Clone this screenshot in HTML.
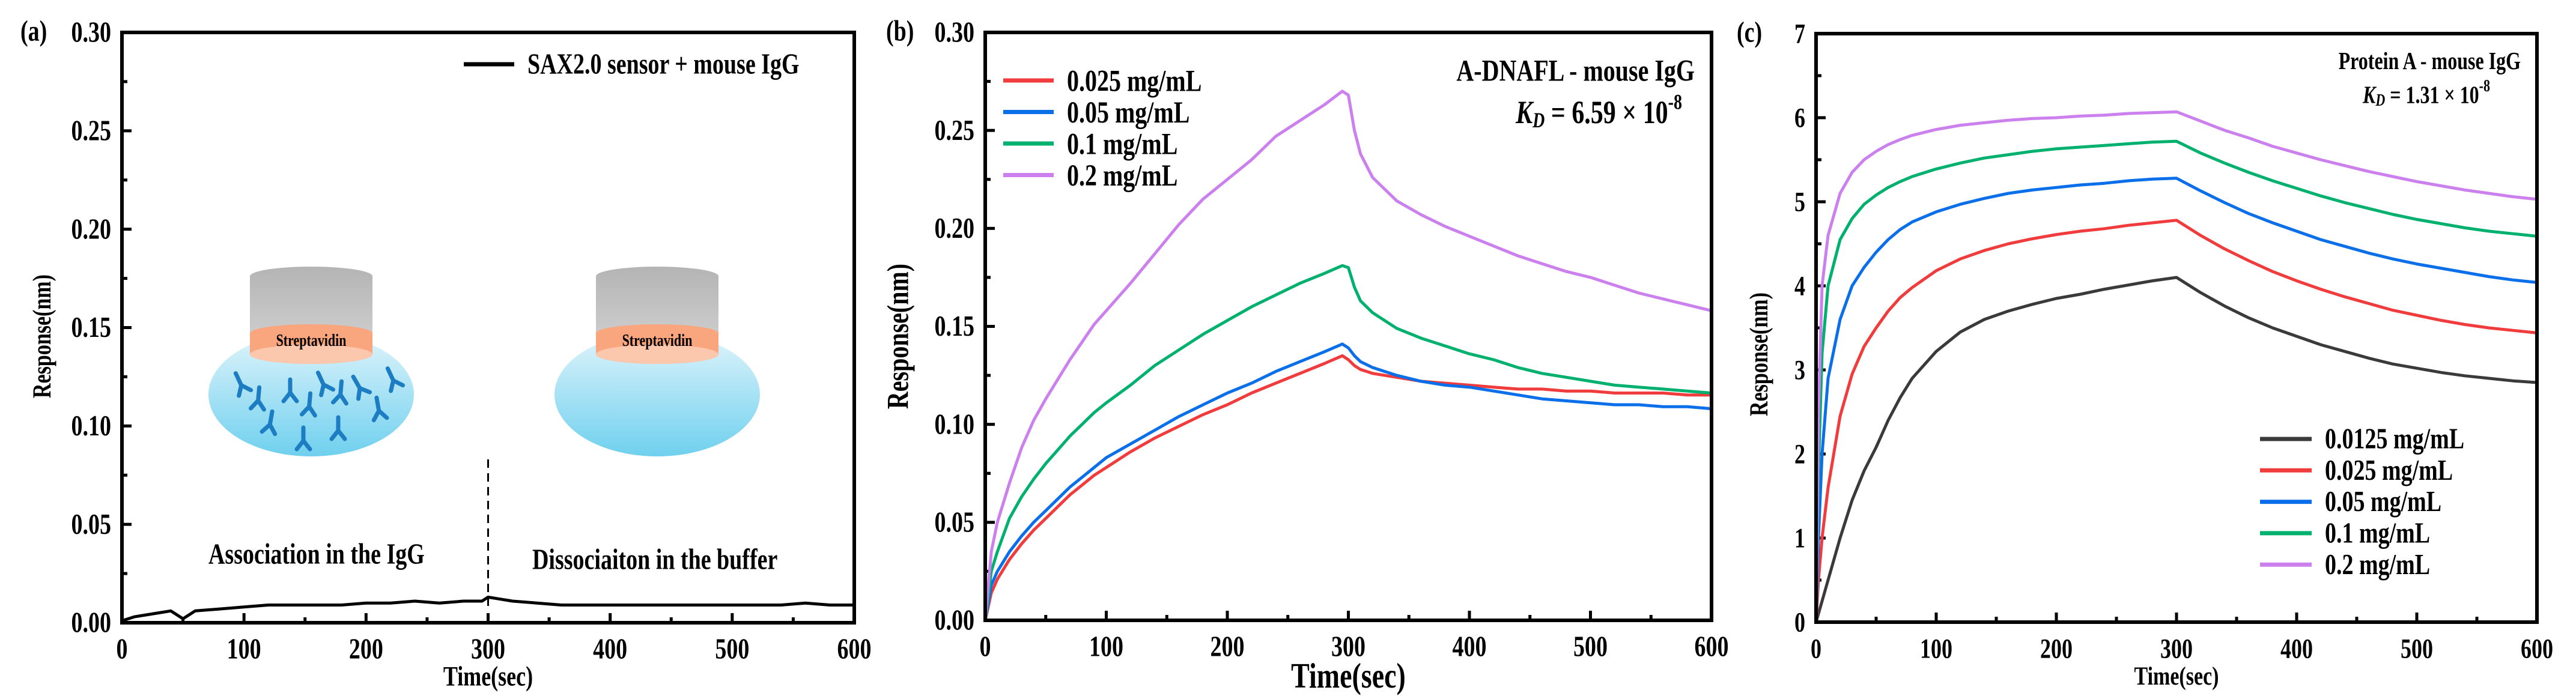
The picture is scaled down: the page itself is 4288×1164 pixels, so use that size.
<!DOCTYPE html>
<html><head><meta charset="utf-8"><style>
html,body{margin:0;padding:0;background:#fff;}
svg{display:block;font-family:"Liberation Serif",serif;font-weight:bold;}
</style></head><body>
<svg id="fig" width="4288" height="1164" viewBox="0 0 4288 1164">
<defs>
<linearGradient id="gray" x1="0" y1="0" x2="0" y2="1"><stop offset="0" stop-color="#b4b4b4"/><stop offset="1" stop-color="#d6d6d6"/></linearGradient>
<linearGradient id="water" x1="0" y1="0" x2="0" y2="1"><stop offset="0" stop-color="#e0f4fb"/><stop offset="1" stop-color="#6fd0ee"/></linearGradient>
</defs>
</svg>
<script>
// ---------- Panel (a) data ----------
const timeA = [0,10,20,30,40,50,60,80,100,120,140,160,180,200,220,240,260,280,295,300,310,320,340,360,380,400,420,440,460,480,500,520,540,560,580,600];
const respA = [0.001,0.003,0.004,0.005,0.006,0.002,0.006,0.007,0.008,0.009,0.009,0.009,0.009,0.010,0.010,0.011,0.010,0.011,0.011,0.013,0.012,0.011,0.010,0.009,0.009,0.009,0.009,0.009,0.009,0.009,0.009,0.009,0.009,0.010,0.009,0.009];
const seriesNamesA = ["SAX2.0 sensor +  mouse IgG"];

// ---------- Panel (b) data ----------
const timeB = [0,5,10,20,30,40,50,60,70,80,90,100,120,140,160,180,200,220,240,260,280,295,300,305,310,320,340,360,380,400,420,440,460,480,500,520,540,560,580,600];
const redB = [0,0.014,0.021,0.031,0.039,0.046,0.052,0.058,0.064,0.069,0.074,0.078,0.086,0.093,0.099,0.105,0.110,0.116,0.121,0.126,0.131,0.135,0.133,0.130,0.128,0.126,0.124,0.122,0.121,0.120,0.119,0.118,0.118,0.117,0.117,0.116,0.116,0.116,0.115,0.115];
const blueB = [0,0.018,0.025,0.035,0.043,0.050,0.056,0.062,0.068,0.073,0.078,0.083,0.090,0.097,0.104,0.110,0.116,0.121,0.127,0.132,0.137,0.141,0.139,0.135,0.132,0.129,0.125,0.122,0.120,0.119,0.117,0.115,0.113,0.112,0.111,0.110,0.110,0.109,0.109,0.108];
const greenB = [0,0.025,0.035,0.052,0.063,0.072,0.080,0.087,0.094,0.100,0.106,0.111,0.120,0.130,0.138,0.146,0.153,0.160,0.166,0.172,0.177,0.181,0.180,0.170,0.163,0.157,0.149,0.144,0.140,0.136,0.133,0.129,0.126,0.124,0.122,0.120,0.119,0.118,0.117,0.116];
const purpleB = [0,0.035,0.050,0.070,0.088,0.102,0.113,0.123,0.133,0.142,0.151,0.158,0.172,0.187,0.202,0.215,0.225,0.235,0.247,0.255,0.263,0.270,0.268,0.250,0.238,0.226,0.214,0.207,0.201,0.196,0.191,0.186,0.182,0.178,0.175,0.171,0.167,0.164,0.161,0.158];
const seriesNamesB = ["0.025 mg/mL","0.05 mg/mL","0.1 mg/mL","0.2 mg/mL"];

// ---------- Panel (c) data ----------
const timeC = [0,2,5,10,20,30,40,50,60,70,80,100,120,140,160,180,200,220,240,260,280,300,320,340,360,380,400,420,440,460,480,500,520,540,560,580,600];
const blackC = [0,0.1,0.25,0.5,1.0,1.45,1.8,2.08,2.4,2.67,2.9,3.22,3.45,3.6,3.7,3.78,3.85,3.9,3.96,4.01,4.06,4.1,3.92,3.76,3.62,3.5,3.4,3.3,3.22,3.14,3.07,3.02,2.97,2.93,2.9,2.87,2.85];
const redC = [0,0.5,1.0,1.6,2.45,2.95,3.28,3.5,3.7,3.86,3.98,4.18,4.32,4.42,4.5,4.56,4.61,4.65,4.68,4.72,4.75,4.78,4.6,4.44,4.3,4.17,4.06,3.96,3.87,3.79,3.71,3.65,3.59,3.54,3.5,3.47,3.44];
const blueC = [0,1.0,2.0,2.9,3.6,4.0,4.22,4.4,4.55,4.67,4.76,4.88,4.97,5.04,5.1,5.14,5.17,5.2,5.22,5.25,5.27,5.28,5.13,4.99,4.86,4.75,4.65,4.55,4.47,4.39,4.32,4.26,4.21,4.16,4.11,4.07,4.04];
const greenC = [0,1.8,3.2,4.0,4.55,4.8,4.97,5.08,5.17,5.24,5.3,5.39,5.46,5.52,5.56,5.6,5.63,5.65,5.67,5.69,5.71,5.72,5.58,5.46,5.35,5.25,5.16,5.07,4.99,4.92,4.85,4.79,4.74,4.69,4.65,4.62,4.59];
const purpleC = [0,2.5,4.0,4.6,5.1,5.35,5.5,5.6,5.68,5.74,5.79,5.86,5.91,5.94,5.97,5.99,6.0,6.02,6.03,6.05,6.06,6.07,5.96,5.85,5.76,5.66,5.58,5.5,5.43,5.36,5.3,5.24,5.19,5.14,5.1,5.06,5.03];
const seriesNamesC = ["0.0125 mg/mL","0.025 mg/mL","0.05 mg/mL","0.1 mg/mL","0.2 mg/mL"];

// tick labels
const xTickLabels = ["0","100","200","300","400","500","600"];
const yTickLabelsAB = ["0.00","0.05","0.10","0.15","0.20","0.25","0.30"];
const yTickLabelsC = ["0","1","2","3","4","5","6","7"];

const NS = "http://www.w3.org/2000/svg";
const svg = document.getElementById("fig");
const SY = 1.28;
function mk(tag, attrs, parent){
  const e = document.createElementNS(NS, tag);
  for (const k in attrs) e.setAttribute(k, attrs[k]);
  (parent||svg).appendChild(e);
  return e;
}
function txt(s, x, y, size, anchor, parent, rot){
  const tr = "translate(" + x + "," + y + ")" + (rot ? " rotate(" + rot + ")" : "") + " scale(1," + SY + ")";
  const t = mk("text", {x:0, y:0, transform:tr, "font-size":size, "text-anchor":anchor||"start", "dominant-baseline":"central", fill:"#000"}, parent);
  t.textContent = s;
  return t;
}

function makePanel(p){
  const g = mk("g", {});
  
  
  const sx = v => p.L + (v - 0) / 600 * (p.R - p.L);
  const sy = v => p.B - (v - p.ymin) / (p.ymax - p.ymin) * (p.B - p.T);
  const tg = mk("g", {stroke:"#000", "stroke-width":5}, g);
  
  
  for (let i = 0; i <= 12; i++){
    const x = sx(i*50), len = i%2===0 ? 16 : 9;
    mk("line", {x1:x, y1:p.B, x2:x, y2:p.B-len}, tg);
  }
  const nY = p.yLabels.length - 1;
  for (let i = 0; i <= nY*2; i++){
    const v = p.ymin + i*(p.ymax-p.ymin)/(nY*2);
    const y = sy(v), len = i%2===0 ? 16 : 9;
    mk("line", {x1:p.L, y1:y, x2:p.L+len, y2:y}, tg);
  }
  xTickLabels.forEach((s,i)=>{
    const t = txt(s, sx(i*100), p.B+44, p.tickFont, "middle", g);
    
    
  });
  p.yLabels.forEach((s,i)=>{
    const t = txt(s, p.L-18, sy(p.ymin + i*(p.ymax-p.ymin)/nY), p.tickFont, "end", g);
    
    
  });
  p.series.forEach((s, si)=>{
    let d = "";
    s.vals.forEach((v,i)=>{ d += (i?"L":"M") + sx(p.time[i]).toFixed(1) + "," + sy(v).toFixed(1); });
    const path = mk("path", {d:d, fill:"none", stroke:s.color, "stroke-width":p.lw, "stroke-linejoin":"round"}, g);
    
    
  });
  const fr = mk("rect", {x:p.L, y:p.T, width:p.R-p.L, height:p.B-p.T, fill:"none", stroke:"#000", "stroke-width":6}, g);
  
  
  const xt = txt("Time(sec)", (p.L+p.R)/2, p.xTitleY, p.xTitleFont, "middle", g);
  
  
  const yt = txt("Response(nm)", p.yTitleX, p.yTitleY, p.yTitleFont, "middle", g, -90);
  
  
  const pl = txt(p.letter, p.letterX, p.T-2, 38, "start", g);
  
  
  p.legend.forEach((s, i)=>{
    const y = p.legY + i*p.legDy;
    const lg = mk("g", {}, g);
    
    
    mk("line", {x1:p.legX, y1:y, x2:p.legX+p.legLine, y2:y, stroke:s.color, "stroke-width":7}, lg);
    txt(s.label, p.legX+p.legLine+22, y, p.legFont, "start", lg);
  });
  return {g, sx, sy};
}

// Panel a
const pa = makePanel({name:"panel-a", L:203, R:1422, T:54, B:1037, ymin:0, ymax:0.30, yLabels:yTickLabelsAB,
  time:timeA, series:[{id:"series-sax2",color:"#000",vals:respA}], lw:5, tickFont:38, xTitleY:1126, xTitleFont:36,
  yTitleX:70, yTitleY:560, yTitleFont:34, letter:"(a)", letterX:34,
  legend:[{label:seriesNamesA[0], color:"#000"}], legX:772, legY:107, legLine:84, legFont:38, legDy:0});

function cylinder(cx, g){
  const w = 102;
  mk("ellipse", {cx:cx+100, cy:657, rx:171, ry:103, fill:"url(#water)"}, g);
  mk("path", {d:`M${cx-w+100},460 L${cx-w+100},590 A${w},16 0 0 0 ${cx+w+100},590 L${cx+w+100},460 A${w},16 0 0 0 ${cx-w+100},460 Z`, fill:"url(#gray)"}, g);
  mk("path", {d:`M${cx-w+100},555 L${cx-w+100},590 A${w},16 0 0 0 ${cx+w+100},590 L${cx+w+100},555 Z`, fill:"#f9a57e"}, g);
  mk("ellipse", {cx:cx+100, cy:590, rx:w, ry:16, fill:"#fcc8ad"}, g);
  mk("ellipse", {cx:cx+100, cy:555, rx:w, ry:15, fill:"#f9a57e"}, g);
  txt("Streptavidin", cx+100, 567, 22, "middle", g);
}
const ill1 = mk("g", {});


cylinder(418, ill1);
const ill2 = mk("g", {});


cylinder(994, ill2);
const abs = [[400,638,-25],[430,663,5],[450,703,10],[483,650,0],[515,673,5],[537,637,-25],[567,653,5],[597,643,-30],[630,680,-10],[653,630,-25],[505,730,0],[563,713,0]];
abs.forEach(a=>{
  const ag = mk("g", {transform:`translate(${a[0]},${a[1]}) rotate(${a[2]})`, stroke:"#1d7dc2", "stroke-width":7, "stroke-linecap":"round", fill:"none"}, ill1);
  
  
  mk("path", {d:"M0,-18 L0,4 M0,4 L-11,18 M0,4 L11,18"}, ag);
});
const dash = mk("line", {x1:pa.sx(300), y1:765, x2:pa.sx(300), y2:1015, stroke:"#000", "stroke-width":3, "stroke-dasharray":"14,9"});


const at1 = txt("Association in the IgG", 347, 923, 38, "start");


const at2 = txt("Dissociaiton in the buffer", 886, 932, 38, "start");



// Panel b
makePanel({name:"panel-b", L:1640, R:2849, T:54, B:1033, ymin:0, ymax:0.30, yLabels:yTickLabelsAB,
  time:timeB, series:[
    {id:"series-0.025",color:"#f03c3c",vals:redB},{id:"series-0.05",color:"#0a6fe8",vals:blueB},
    {id:"series-0.1",color:"#00b06e",vals:greenB},{id:"series-0.2",color:"#cc80ee",vals:purpleB}],
  lw:5, tickFont:38, xTitleY:1126, xTitleFont:46, yTitleX:1494, yTitleY:560, yTitleFont:40, letter:"(b)", letterX:1475,
  legend:[{label:seriesNamesB[0],color:"#f03c3c"},{label:seriesNamesB[1],color:"#0a6fe8"},{label:seriesNamesB[2],color:"#00b06e"},{label:seriesNamesB[3],color:"#cc80ee"}],
  legX:1670, legY:134, legDy:52.5, legLine:84, legFont:40});
const bt1 = txt("A-DNAFL - mouse IgG", 2821, 117, 40, "end");


const bkd = mk("text", {x:0, y:0, transform:"translate(2800,187) scale(1,"+SY+")", "font-size":42, "text-anchor":"end", "dominant-baseline":"central"});


bkd.innerHTML = '<tspan font-style="italic">K</tspan><tspan font-style="italic" font-size="28" dy="10">D</tspan><tspan dy="-10"> = 6.59 × 10</tspan><tspan font-size="28" dy="-14">-8</tspan>';

// Panel c
makePanel({name:"panel-c", L:3023, R:4223, T:56, B:1036, ymin:0, ymax:7, yLabels:yTickLabelsC,
  time:timeC, series:[
    {id:"series-0.0125",color:"#3a3a3a",vals:blackC},{id:"series-0.025",color:"#f03c3c",vals:redC},
    {id:"series-0.05",color:"#0a6fe8",vals:blueC},{id:"series-0.1",color:"#00b06e",vals:greenC},{id:"series-0.2",color:"#cc80ee",vals:purpleC}],
  lw:5, tickFont:36, xTitleY:1126, xTitleFont:34, yTitleX:2928, yTitleY:590, yTitleFont:34, letter:"(c)", letterX:2891,
  legend:[{label:seriesNamesC[0],color:"#3a3a3a"},{label:seriesNamesC[1],color:"#f03c3c"},{label:seriesNamesC[2],color:"#0a6fe8"},{label:seriesNamesC[3],color:"#00b06e"},{label:seriesNamesC[4],color:"#cc80ee"}],
  legX:3762, legY:731, legDy:52.3, legLine:86, legFont:38});
const ct1 = txt("Protein A - mouse IgG", 4196, 101, 32, "end");


const ckd = mk("text", {x:0, y:0, transform:"translate(4145,157) scale(1,"+SY+")", "font-size":32, "text-anchor":"end", "dominant-baseline":"central"});


ckd.innerHTML = '<tspan font-style="italic">K</tspan><tspan font-style="italic" font-size="22" dy="8">D</tspan><tspan dy="-8"> = 1.31 × 10</tspan><tspan font-size="22" dy="-11">-8</tspan>';
</script>
</body></html>
